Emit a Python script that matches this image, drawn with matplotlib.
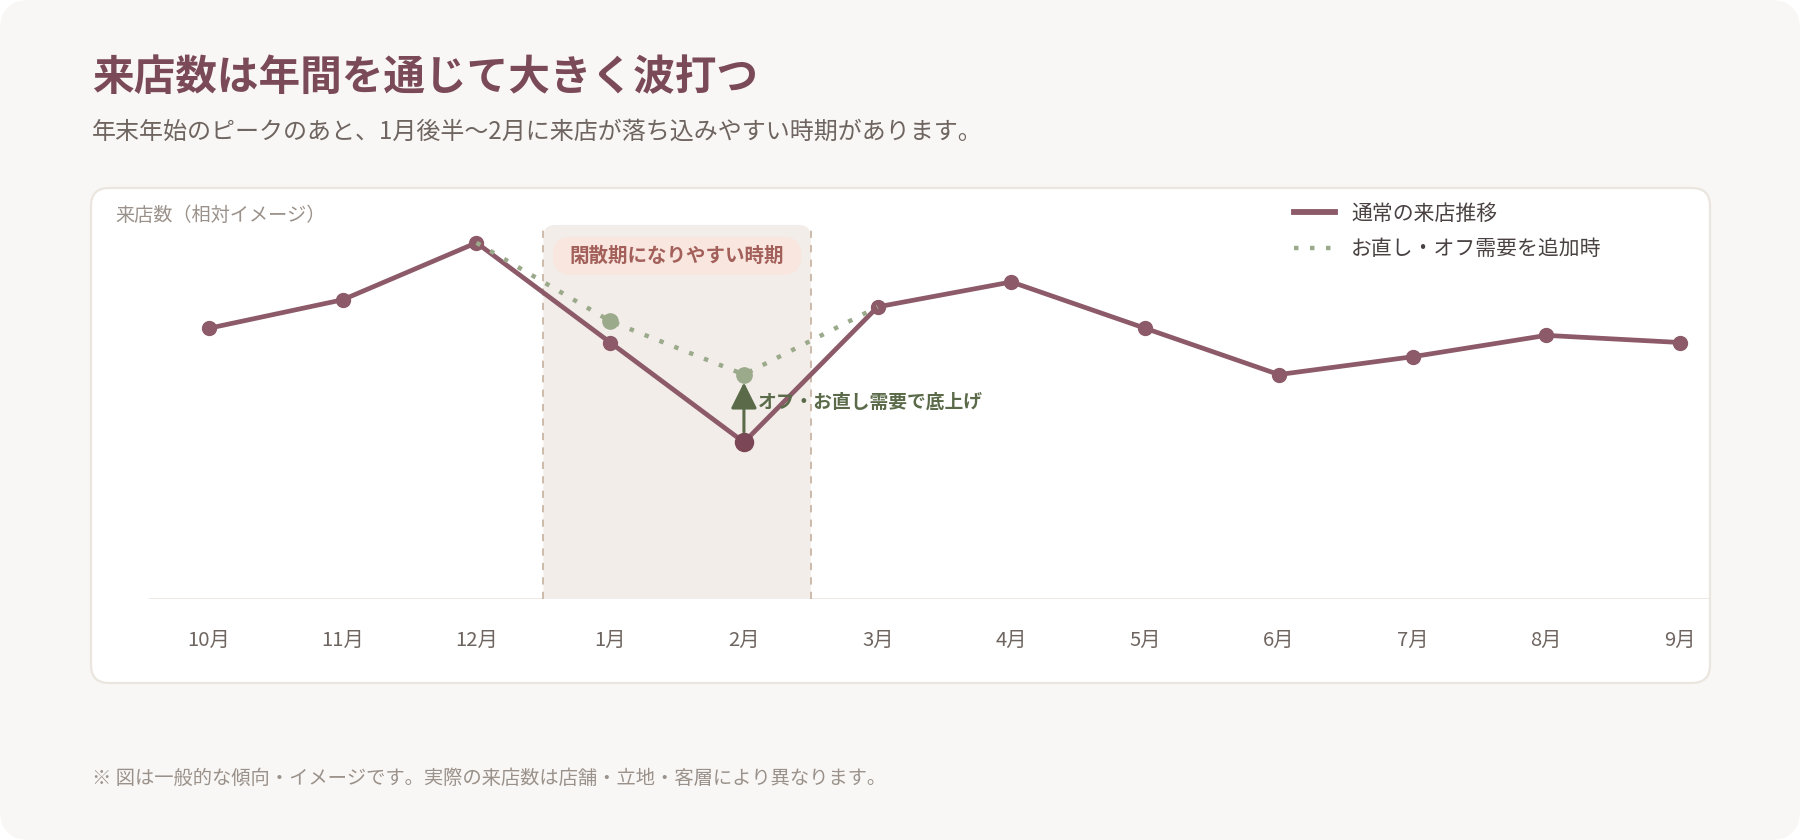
import matplotlib
matplotlib.use("Agg")
import matplotlib.pyplot as plt
from matplotlib.patches import FancyBboxPatch
from matplotlib.lines import Line2D

plt.rcParams['font.family'] = ['Noto Sans CJK JP', 'DejaVu Sans']

# data
months = ["10月", "11月", "12月", "1月", "2月", "3月", "4月", "5月", "6月", "7月", "8月", "9月"]
visits = [76, 84, 100, 72, 44, 82, 89, 76, 63, 68, 74, 72]
boost_idx = [2, 3, 4, 5]
boost_vals = [100, 78, 63, 82]

title = "来店数は年間を通じて大きく波打つ"
subtitle = "年末年始のピークのあと、1月後半〜2月に来店が落ち込みやすい時期があります。"
ylabel = "来店数（相対イメージ）"
off_label = "閑散期になりやすい時期"
arrow_label = "オフ・お直し需要で底上げ"
legend_labels = ["通常の来店推移", "お直し・オフ需要を追加時"]
footnote = "※ 図は一般的な傾向・イメージです。実際の来店数は店舗・立地・客層により異なります。"

MAUVE = "#8c5a69"
MAUVE_DARK = "#7b4656"
SAGE = "#9caa8c"
SAGE_DARK = "#5b6b4a"

W, H = 1800, 840
fig = plt.figure(figsize=(W / 100, H / 100), dpi=100, facecolor="white")


def px_box(x0, y0, x1, y1, r, **kw):
    # pixel coords measured from top-left
    p = FancyBboxPatch((x0 / W, 1 - y1 / H), (x1 - x0) / W, (y1 - y0) / H,
                       boxstyle=f"round,pad=0,rounding_size={r / W}",
                       mutation_aspect=W / H, transform=fig.transFigure, **kw)
    fig.patches.append(p)
    return p


px_box(0, 0, W, H, 30, facecolor="#f9f7f5", edgecolor="none", zorder=0)
px_box(91, 188, 1710, 683, 18, facecolor="white", edgecolor="#ebe5df", lw=1.6, zorder=1)

fig.text(92 / W, 1 - 78 / H, title, fontsize=30, fontweight="bold", color="#7b4a58", va="center")
fig.text(92 / W, 1 - 132 / H, subtitle, fontsize=17.3, color="#6f6560", va="center")
fig.text(115 / W, 1 - 215 / H, ylabel, fontsize=13.8, color="#9a918a", va="center")
fig.text(92 / W, 1 - 778 / H, footnote, fontsize=13.9, color="#9a918a", va="center")

ax = fig.add_axes([149 / W, 1 - 599 / H, (1709 - 149) / W, (599 - 200) / H])
ax.set_facecolor("none")
ax.set_zorder(2)
ax.set_xlim(-0.449, 11.217)
ax.set_ylim(0, 112)
for s in ax.spines.values():
    s.set_visible(False)
ax.set_yticks([])
ax.set_xticks(range(len(months)))
ax.set_xticklabels(months, fontsize=14.6, color="#6f6560")
ax.tick_params(axis="x", length=0, pad=22)
ax.axhline(0, color="#ece6e1", lw=2, zorder=1)

# off-season band
x_px = (1709 - 149) / 11.666
y_px = (599 - 200) / 112
band = FancyBboxPatch((2.5, -4), 2.0, 109, boxstyle=f"round,pad=0,rounding_size={12 / x_px}",
                      mutation_aspect=x_px / y_px, facecolor="#f2ede9", edgecolor="none", zorder=1)
ax.add_patch(band)
for xv in (2.5, 4.5):
    ax.plot([xv, xv], [0, 105], color="#c9b5a4", lw=1.3, ls=(0, (4, 4)), zorder=1.5)
pill = FancyBboxPatch((2.57, 91), 1.86, 10.7, boxstyle=f"round,pad=0,rounding_size={19 / x_px}",
                      mutation_aspect=x_px / y_px, facecolor="#f8e6df", edgecolor="none", zorder=1.6)
ax.add_patch(pill)
ax.text(3.5, 96.3, off_label, fontsize=14, fontweight="bold", color="#a3605a",
        ha="center", va="center", zorder=3)

# lines
x = list(range(len(months)))
ax.plot(x, visits, color=MAUVE, lw=3.4, marker="o", ms=10, zorder=4, solid_capstyle="round")
ax.plot([4], [visits[4]], marker="o", ms=13, color=MAUVE_DARK, zorder=5, ls="none")
ax.plot(boost_idx, boost_vals, color=SAGE, lw=3.2, ls=(0, (1.0, 2.6)), zorder=5)
ax.plot(boost_idx[1:3], boost_vals[1:3], color=SAGE, marker="o", ms=11, ls="none", zorder=6)

# arrow
ax.annotate("", xy=(4, boost_vals[2] - 2.2), xytext=(4, visits[4] + 2.9),
            arrowprops=dict(arrowstyle="-|>,head_length=0.8,head_width=0.4", mutation_scale=20,
                            color=SAGE_DARK, lw=2.2, shrinkA=0, shrinkB=0), zorder=6)
ax.text(4.105, 55.3, arrow_label, fontsize=13.5, fontweight="bold", color=SAGE_DARK,
        ha="left", va="center", zorder=6)

handles = [Line2D([], [], color=MAUVE, lw=4.2),
           Line2D([], [], color=SAGE, lw=3.2, ls=(0, (1.0, 2.6)))]
fig.legend(handles, legend_labels, loc="upper left", bbox_to_anchor=(1275 / W, 1 - 184 / H),
           frameon=False, fontsize=15, handlelength=2.0, handletextpad=0.75,
           labelspacing=0.65, labelcolor="#4a4242")

fig.savefig("out.png", dpi=100, facecolor="white")
